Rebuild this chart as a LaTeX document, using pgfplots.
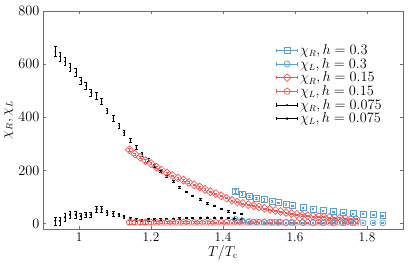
\documentclass[border=0pt]{standalone}
\usepackage{pgfplots}
\usepackage{pgfplotstable}
\pgfplotsset{compat=1.18}
\definecolor{cblue}{RGB}{88,160,214}
\definecolor{cred}{RGB}{241,88,84}
\definecolor{axgray}{RGB}{110,110,110}

\pgfplotstableread{
T v e
0.934 648 18
0.947 629 16
0.961 610 15
0.975 588 15
0.991 569 14
1.005 538 14
1.019 519 13
1.033 494 13
1.049 481 12
1.063 460 12
1.078 425 11
1.095 397 10
1.111 368 10
1.125 342 9
1.143 313 8
1.159 288 8
1.175 262 7
1.193 242 6
1.209 219 6
1.227 198 5
1.244 178 5
1.263 159 4
1.279 138 4
1.298 120 3
1.316 105 3
1.337 91 3
1.356 78 3
1.376 68 2
1.395 57 2
1.415 47 2
1.432 41 2
1.452 37 2
}\blackR

\pgfplotstableread{
T v e
0.934 11 15
0.947 11 15
0.961 24 14
0.975 34 13
0.991 34 13
1.005 28 12
1.019 34 11
1.033 34 11
1.049 55 10
1.063 55 10
1.078 42 9
1.095 38 8
1.111 34 7
1.125 26 6
1.143 18 5
1.159 15 5
1.175 13 4
1.193 15 4
1.209 17 3
1.227 17 3
1.244 18 3
1.263 19 3
1.279 20 3
1.298 21 2
1.316 21 2
1.337 22 2
1.356 23 2
1.376 23 2
1.395 22 2
1.415 21 2
1.432 20 2
1.452 19 2
}\blackL

\pgfplotstableread{
T v e
1.140 278 5
1.155 262 5
1.170 250 5
1.185 237 4
1.200 226 4
1.215 213 4
1.230 201 4
1.245 191 4
1.260 181 3
1.275 172 3
1.290 164 3
1.305 155 3
1.320 146 3
1.335 138 3
1.350 129 3
1.365 120 3
1.380 113 3
1.395 105 2
1.410 96 2
1.425 88 2
1.440 81 2
1.455 76 2
1.470 72 2
1.485 67 2
1.500 63 2
1.515 58 2
1.530 54 2
1.545 50 2
1.560 46 2
1.575 42 2
1.590 38 2
1.605 35 2
1.620 32 2
1.635 30 2
1.650 28 2
1.665 26 2
1.680 25 2
1.695 24 2
1.710 23 2
1.725 21 2
1.740 20 2
1.755 18 2
1.770 17 2
}\redR

\pgfplotstableread{
T v e
1.140 5 8
1.155 5 8
1.170 5 7
1.185 5 7
1.200 5 6
1.215 5 5
1.230 5 5
1.245 5 4
1.260 5 4
1.275 5 4
1.290 5 3
1.305 5 3
1.320 5 3
1.335 5 3
1.350 5 3
1.365 5 3
1.380 5 2
1.395 5 2
1.410 5 2
1.425 5 2
1.440 5 2
1.455 5 2
1.470 5 2
1.485 5 2
1.500 5 2
1.515 5 2
1.530 5 2
1.545 5 2
1.560 5 2
1.575 5 2
1.590 5 2
1.605 5 2
1.620 5 2
1.635 5 2
1.650 5 2
1.665 5 2
1.680 5 2
1.695 5 2
1.710 5 2
1.725 5 2
1.740 5 2
1.755 5 2
1.770 5 2
}\redL

\pgfplotstableread{
T v e
1.434 122 6
1.453 112 5
1.473 104 5
1.493 97 4
1.514 90 4
1.536 84 3
1.554 79 3
1.575 74 3
1.593 68 3
1.622 60 2
1.650 55 2
1.678 50 2
1.706 46 2
1.734 42 2
1.761 38 2
1.789 36 2
1.817 34 2
1.844 31 2
}\blueR

\pgfplotstableread{
T v e
1.434 16 4
1.453 11 3
1.473 8 2
1.493 7 2
1.514 6 2
1.536 5 2
1.554 5 2
1.575 4 2
1.593 4 2
1.622 4 2
1.650 3 2
1.678 3 2
1.706 3 2
1.734 3 2
1.761 3 2
1.789 3 2
1.817 3 2
1.844 3 2
}\blueL

\newcommand{\legimg}[2]{%
  \addlegendimage{legend image code/.code={
    \draw[#1,line width=0.6pt] (0cm,0cm)--(0.75cm,0cm) (0cm,-1.8pt)--(0cm,1.8pt) (0.75cm,-1.8pt)--(0.75cm,1.8pt);
    \draw[#1,line width=0.7pt,fill=white,#2] plot coordinates {(0.375cm,0cm)};
  }}}

\begin{document}
\begin{tikzpicture}
\begin{axis}[
  scale only axis,
  width=360bp, height=218bp,
  xmin=0.9, xmax=1.9,
  ymin=-20, ymax=800,
  xtick={1,1.2,1.4,1.6,1.8},
  xticklabels={1,1.2,1.4,1.6,1.8},
  ytick={0,200,400,600,800},
  tick align=inside,
  axis line style={axgray, line width=0.8pt},
  major tick style={axgray, line width=0.6pt},
  major tick length=3.5pt,
  tick label style={font=\fontsize{13.3}{15}\selectfont},
  label style={font=\fontsize{13.3}{15}\selectfont},
  xlabel={$T/T_{\mathrm{c}}$},
  ylabel={$\chi_R, \chi_L$},
  xlabel style={yshift=3pt},
  ylabel style={yshift=-1.5pt},
  legend style={draw=none, fill=none, at={(0.955,0.865)}, anchor=north east,
     font=\fontsize{13.3}{15}\selectfont, row sep=-1.8pt},
  legend cell align=left,
  error bars/error bar style={line width=0.4pt},
  error bars/error mark options={rotate=90, mark size=1.4pt, line width=0.4pt},
]
\legimg{cblue}{mark=square,mark size=3pt}
\addlegendentry{$\chi_R, h=0.3$}
\legimg{cblue}{mark=o,mark size=3pt}
\addlegendentry{$\chi_L, h=0.3$}
\legimg{cred}{mark=square,mark size=2.8pt,mark options={rotate=45}}
\addlegendentry{$\chi_R, h=0.15$}
\legimg{cred}{mark=pentagon,mark size=3.3pt}
\addlegendentry{$\chi_L, h=0.15$}
\legimg{black}{mark=*,mark size=0.4pt}
\addlegendentry{$\chi_R, h=0.075$}
\legimg{black}{mark=*,mark size=0.9pt,fill=black}
\addlegendentry{$\chi_L, h=0.075$}

\addplot[forget plot, only marks, black, mark=*, mark size=0.5pt, line width=0.4pt,
  error bars/.cd, y dir=both, y explicit] table[x=T, y=v, y error=e] {\blackR};
\addplot[forget plot, only marks, black, mark=*, mark size=0.9pt, line width=0.4pt,
  error bars/.cd, y dir=both, y explicit] table[x=T, y=v, y error=e] {\blackL};
\addplot[forget plot, only marks, cred, mark=square, mark size=2.8pt, mark options={rotate=45, line width=0.7pt},
  error bars/.cd, y dir=both, y explicit] table[x=T, y=v, y error=e] {\redR};
\addplot[forget plot, only marks, cred, mark=pentagon, mark size=3.3pt, mark options={line width=0.7pt},
  error bars/.cd, y dir=both, y explicit] table[x=T, y=v, y error=e] {\redL};
\addplot[forget plot, only marks, cblue, mark=square, mark size=3pt, mark options={line width=0.7pt},
  error bars/.cd, y dir=both, y explicit] table[x=T, y=v, y error=e] {\blueR};
\addplot[forget plot, only marks, cblue, mark=o, mark size=3pt, mark options={line width=0.7pt},
  error bars/.cd, y dir=both, y explicit] table[x=T, y=v, y error=e] {\blueL};
\end{axis}
\pgfresetboundingbox
\path[use as bounding box] ([xshift=-43bp,yshift=-40bp]current axis.south west) rectangle ([xshift=12bp,yshift=11bp]current axis.north east);
\end{tikzpicture}
\end{document}
